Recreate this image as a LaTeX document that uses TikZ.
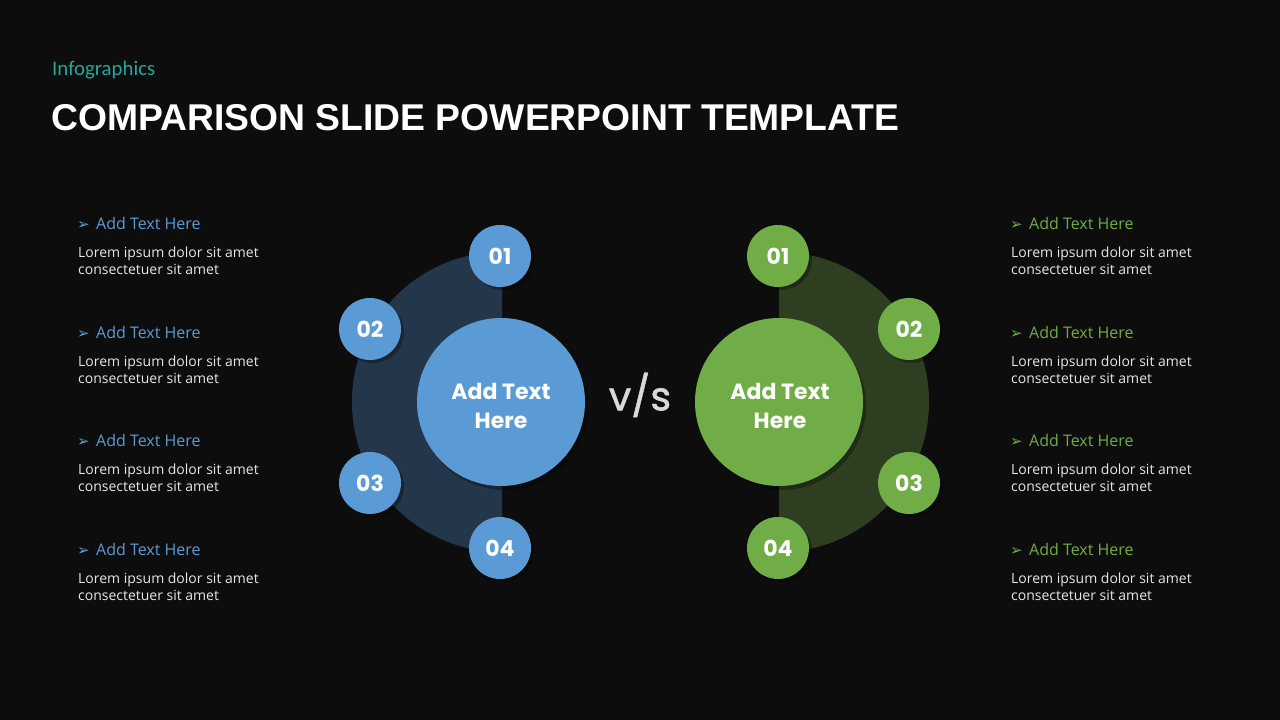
\documentclass[tikz,border=0pt]{standalone}
\usepackage{fontspec}
\setmainfont{Open Sans}
\newfontfamily\popfont{Poppins}
\newfontfamily\popvs[FakeBold=1.2]{Poppins}
\newfontfamily\arlfont{Liberation Sans}
\newfontfamily\carfont{Carlito}
\newfontfamily\djfont{DejaVu Sans}
\definecolor{bg}{HTML}{0D0D0D}
\definecolor{blu}{HTML}{5B9BD5}
\definecolor{dblu}{HTML}{243649}
\definecolor{grn}{HTML}{70AD47}
\definecolor{dgrn}{HTML}{2D3E21}
\definecolor{tealc}{HTML}{26A69A}
\definecolor{bodyc}{HTML}{E6E6E6}
\definecolor{vsc}{HTML}{D9D9D9}
\tikzset{
  x=1pt,y=1pt,
  numc/.style={circle,minimum size=62pt,inner sep=0pt,fill=#1,text=white,font=\popfont\bfseries\fontsize{22}{24}\selectfont},
  bigc/.style={circle,minimum size=168pt,inner sep=0pt,fill=#1},
  shad/.style={fill=black,opacity=0.3},
  head/.style={anchor=base west,inner sep=0pt,text=#1,font=\fontsize{16}{19}\selectfont},
  lorem/.style={anchor=west,inner sep=0pt,align=left,text=bodyc,font=\fontsize{14}{17}\selectfont},
  bul/.style={anchor=base west,inner sep=0pt,text=#1,font=\djfont\fontsize{15}{17}\selectfont},
  ctext/.style={align=center,text=white,inner sep=0pt,font=\popfont\bfseries\fontsize{22}{29}\selectfont}
}
\begin{document}
\begin{tikzpicture}
\fill[bg] (0,0) rectangle (1280,720);
\useasboundingbox (0,0) rectangle (1280,720);
% header
\node[anchor=base west,inner sep=0pt,text=tealc,font=\carfont\fontsize{20.8}{24}\selectfont] (sub) at (52,644) {Infographics};
\node[anchor=base west,inner sep=0pt,text=white,font=\arlfont\bfseries\fontsize{37.3}{42}\selectfont] (title) at (51,589) {COMPARISON SLIDE POWERPOINT TEMPLATE};
% left semicircle
\fill[dblu] (502,468) arc[start angle=90,end angle=270,radius=150] -- cycle;
% right semicircle
\fill[dgrn] (779,468) arc[start angle=90,end angle=-90,radius=150] -- cycle;
% shadows
\foreach \p in {(503,461),(373,388),(373,234),(503,169),(781,461),(912,388),(912,234),(781,169)}
  \fill[shad] \p circle[radius=31];
\fill[shad] (504,314) circle[radius=84];
\fill[shad] (782,314) circle[radius=84];
% big circles
\node[bigc=blu] (L) at (501,318) {};
\node[bigc=grn] (R) at (779,318) {};
\node[ctext] (Lt) at (501,314) {Add Text\\Here};
\node[ctext] (Rt) at (780,314) {Add Text\\Here};
% small circles left
\node[numc=blu] (L1) at (500,464) {01};
\node[numc=blu] (L2) at (370,391) {02};
\node[numc=blu] (L3) at (370,237) {03};
\node[numc=blu] (L4) at (500,172) {04};
% small circles right
\node[numc=grn] (R1) at (778,464) {01};
\node[numc=grn] (R2) at (909,391) {02};
\node[numc=grn] (R3) at (909,237) {03};
\node[numc=grn] (R4) at (778,172) {04};
% vs
\node[text=vsc,font=\popvs\fontsize{40}{44}\selectfont,inner sep=0pt] (vs) at (640,325) {v/s};
% left texts
\foreach \y/\n in {490/1,381/2,273/3,164/4}{
  \node[bul=blu] (lb\n) at (77,\y) {➢};
  \node[head=blu] (lh\n) at (96,\y) {Add Text Here};
  \node[lorem] (ll\n) at (78,\y-31) {Lorem ipsum dolor sit amet\\consectetuer sit amet};
}
% right texts
\foreach \y/\n in {490/1,381/2,273/3,164/4}{
  \node[bul=grn] (rb\n) at (1010,\y) {➢};
  \node[head=grn] (rh\n) at (1029,\y) {Add Text Here};
  \node[lorem] (rl\n) at (1011,\y-31) {Lorem ipsum dolor sit amet\\consectetuer sit amet};
}
\end{tikzpicture}
\end{document}
